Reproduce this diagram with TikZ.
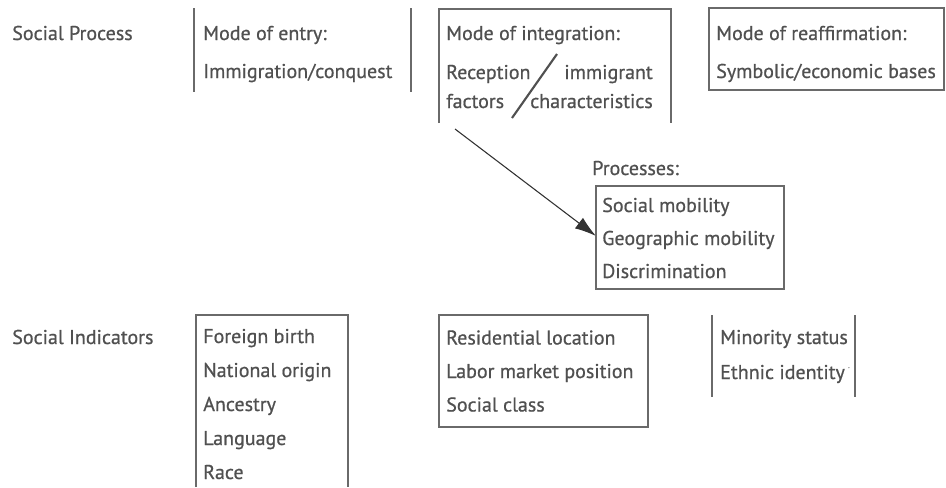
\documentclass[tikz,border=0pt]{standalone}
\usepackage{fontspec}
\setmainfont{PT Sans}
\newfontfamily\scanfont[FakeBold=0.7]{PT Sans}
\usetikzlibrary{arrows.meta}
\definecolor{ink}{HTML}{505050}
\definecolor{rule}{HTML}{6A6A6A}
\tikzset{lbl/.style={anchor=base west,inner sep=0pt,text=ink,font=\scanfont\fontsize{15}{17}\selectfont},
  rlbl/.style={lbl,anchor=base east},
  frame/.style={draw=rule,line width=1.1pt}}
\begin{document}
\begin{tikzpicture}[x=.75pt,y=-.75pt]
\useasboundingbox (0,0) rectangle (946,487);
% row labels
\node[lbl] (sp) at (12,40){Social Process};\node[lbl] (si) at (12,344){Social Indicators};
% mode of entry
\draw[frame] (194,8)--(194,92);\draw[frame] (411,8)--(411,92);
\node[lbl] (ent1) at (203,40){Mode of entry:};\node[lbl] (ent2) at (203,78){Immigration/conquest};
% mode of integration
\draw[frame] (439,123)--(439,9)--(671,9)--(671,123);
\node[lbl] (int1) at (446,40){Mode of integration:};
\node[lbl] (int2) at (446,79){Reception};\node[rlbl] (int3) at (653,79){immigrant};
\node[lbl] (int4) at (446,108){factors};\node[rlbl] (int5) at (653,108){characteristics};
\draw[draw=ink,line width=1.6pt] (512,118)--(557,54);
% mode of reaffirmation
\draw[frame] (709,8) rectangle (944,90);
\node[lbl] (rea1) at (716,40){Mode of reaffirmation:};\node[lbl] (rea2) at (716,78){Symbolic/economic bases};
% processes
\coordinate (intfoot) at (455,129);\coordinate (procw) at (596,236);
\draw[-{Latex[length=16pt,width=10pt]},draw=black!80,fill=black!80,line width=.8pt] (intfoot)--(procw);
\node[lbl] (proc) at (592,175){Processes:};
\draw[frame] (596,186) rectangle (784,289);
\foreach \t [count=\i] in {Social mobility,Geographic mobility,Discrimination}
  \node[lbl] (proc\i) at (602,179+33*\i){\t};
% indicators
\draw[frame] (196,487)--(196,315)--(348,315)--(348,487);
\foreach \t [count=\i] in {Foreign birth,National origin,Ancestry,Language,Race}
  \node[lbl] (ind\i) at (203,309+34*\i){\t};
\draw[frame] (439,315) rectangle (648,427);
\foreach \t [count=\i] in {Residential location,Labor market position,Social class}
  \node[lbl] (res\i) at (446,311+33.5*\i){\t};
\draw[frame] (712,315)--(712,397);\draw[frame] (855,315)--(855,397);
\node[lbl] (min1) at (720,344){Minority status};
\node[lbl] (min2) at (720,379){Ethnic identity\,\raisebox{.55em}{\tiny.}};
\end{tikzpicture}
\end{document}
